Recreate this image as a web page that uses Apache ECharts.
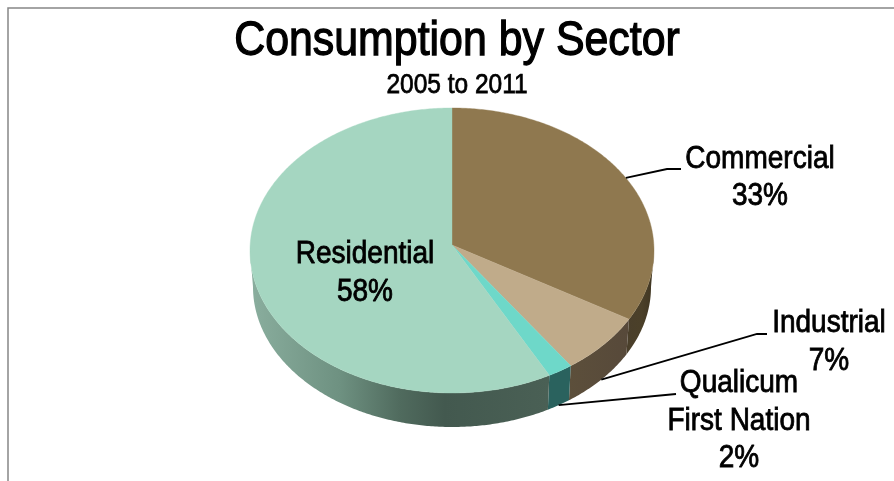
<!DOCTYPE html>
<html>
<head>
<meta charset="utf-8">
<title>Consumption by Sector</title>
<script src="https://cdn.jsdelivr.net/npm/echarts@6/dist/echarts.min.js"></script>
<style>html,body{margin:0;padding:0;background:#fff}#chart{width:894px;height:481px}</style>
</head>
<body>
<div id="chart"></div>
<script>
// Sector shares, clockwise from twelve o'clock
const categories = ['Commercial', 'Industrial', 'Qualicum First Nation', 'Residential'];
const shares = [33, 7, 2, 58];
const labelLines = [['Commercial'], ['Industrial'], ['Qualicum', 'First Nation'], ['Residential']];
const chartTitle = 'Consumption by Sector';
const chartSubtitle = '2005 to 2011';

const FONT = '"Liberation Sans", Arial, sans-serif';
const NARROW = 0.875; // condensed look for every text run

// Tilted disc: the top face, the rim's lower edge and the slightly off-centre apex
const TOP = { cx: 452, cy: 250.5, rx: 202, ry: 142.5 };
const BOTTOM = { cx: 452, cy: 287, rx: 199, ry: 140 };
const APEX = [452, 245];

const topColors = ['#8f784f', '#c0ab8a', '#6ed8c9', '#a5d6c1'];
const rimStops = [
  [[0, '#4a3f2b'], [0.55, '#4b4029'], [1, '#3f3522']],
  [[0, '#5c4f3b'], [1, '#57493a']],
  [[0, '#2a625e'], [1, '#2a625e']],
  [[0, '#8aae9e'], [0.3, '#6e9181'], [0.5, '#506b5e'], [0.65, '#43594f'], [1, '#4a6055']]
];

// Label placement: text centre, first line's middle and the leader's bend points
const labelLayout = [
  { x: 760, y: 159, onRim: false, leader: [[667, 169], [681, 169]] },
  { x: 829, y: 323.5, onRim: true, leader: [[757, 334], [767, 334]] },
  { x: 739, y: 383.5, onRim: true, leader: [[676, 394]] },
  { x: 365, y: 254.5 }
];

const total = shares.reduce((a, b) => a + b, 0);
const sliceAngles = [];
shares.reduce((sum, v) => {
  sliceAngles.push([sum / total * 2 * Math.PI, (sum + v) / total * 2 * Math.PI]);
  return sum + v;
}, 0);

function onEllipse(e, t) {
  return [e.cx + e.rx * Math.sin(t), e.cy - e.ry * Math.cos(t)];
}
function arc(e, a, b) {
  const n = Math.max(2, Math.ceil((b - a) / 0.01));
  const pts = [];
  for (let i = 0; i <= n; i++) pts.push(onEllipse(e, a + (b - a) * i / n));
  return pts;
}

function narrowText(text, x, y, size, weight) {
  return {
    type: 'text',
    x: x,
    y: y,
    scaleX: NARROW,
    silent: true,
    style: {
      x: 0,
      y: 0,
      text: text,
      font: size + 'px ' + FONT,
      fill: '#000',
      stroke: '#000',
      lineWidth: weight,
      align: 'center',
      verticalAlign: 'middle'
    }
  };
}

function renderRim(params, api) {
  const i = params.dataIndex;
  // Only the part of the rim facing the viewer is visible
  const a = Math.max(sliceAngles[i][0], Math.PI / 2);
  const b = Math.min(sliceAngles[i][1], Math.PI * 1.5);
  if (b <= a) return { type: 'group', children: [] };
  const upper = arc(TOP, a, b);
  const lower = arc(BOTTOM, a, b).reverse();
  const xs = upper.concat(lower).map(p => p[0]);
  const x0 = Math.min.apply(null, xs), x1 = Math.max.apply(null, xs);
  const stops = rimStops[i].map(s => ({ offset: s[0], color: s[1] }));
  return {
    type: 'polygon',
    shape: { points: upper.concat(lower) },
    style: {
      fill: new echarts.graphic.LinearGradient(x0, 0, x1, 0, stops, true),
      stroke: null
    }
  };
}

function renderFace(params, api) {
  const i = params.dataIndex;
  return {
    type: 'polygon',
    shape: { points: [APEX].concat(arc(TOP, sliceAngles[i][0], sliceAngles[i][1])) },
    style: { fill: topColors[i], stroke: topColors[i], lineWidth: 0.4 }
  };
}

function renderLabel(params, api) {
  const i = params.dataIndex;
  const layout = labelLayout[i];
  const lines = labelLines[i].concat([api.value(0) + '%']);
  const children = lines.map((line, k) => narrowText(line, layout.x, layout.y + k * 37.5, 32, 0.85));
  if (layout.leader) {
    const mid = (sliceAngles[i][0] + sliceAngles[i][1]) / 2;
    const anchor = onEllipse(layout.onRim ? BOTTOM : TOP, mid);
    children.push({
      type: 'polyline',
      shape: { points: [anchor].concat(layout.leader) },
      style: { stroke: '#000', lineWidth: 1.8, fill: null }
    });
  }
  return { type: 'group', children };
}

const seriesData = shares.map(v => [v]);
const chart = echarts.init(document.getElementById('chart'), null, { renderer: 'canvas' });
chart.setOption({
  animation: false,
  backgroundColor: '#fff',
  graphic: [
    {
      type: 'polyline',
      silent: true,
      shape: { points: [[8, 481], [8, 8], [894, 8]] },
      style: { stroke: '#868686', lineWidth: 1.5, fill: null }
    },
    narrowText(chartTitle, 457, 41, 49, 1.3),
    narrowText(chartSubtitle, 457, 85.5, 28, 0.75)
  ],
  series: [
    { type: 'custom', coordinateSystem: 'none', name: 'rim', data: seriesData, renderItem: renderRim, z: 1, silent: true },
    { type: 'custom', coordinateSystem: 'none', name: 'face', data: seriesData, renderItem: renderFace, z: 2, silent: true },
    { type: 'custom', coordinateSystem: 'none', name: 'labels', data: seriesData, renderItem: renderLabel, z: 3, silent: true }
  ]
});
</script>
</body>
</html>
